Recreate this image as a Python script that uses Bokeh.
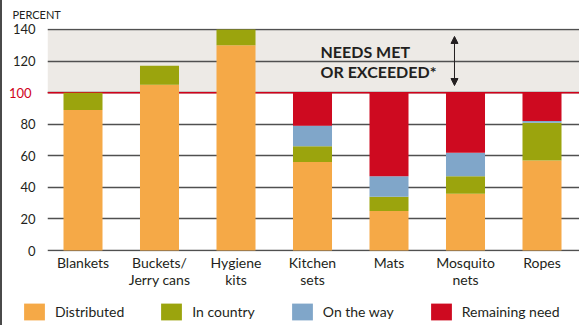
from bokeh.plotting import figure
from bokeh.layouts import column
from bokeh.models import (ColumnDataSource, Range1d, FixedTicker, BoxAnnotation, Span,
                          Label, Legend, LegendItem, Arrow, NormalHead, LinearAxis)
from bokeh.embed import file_html
from bokeh.resources import INLINE

categories = ["Blankets", "Buckets/\nJerry cans", "Hygiene\nkits", "Kitchen\nsets",
              "Mats", "Mosquito\nnets", "Ropes"]
distributed = [89, 105, 130, 56, 25, 36, 57]
in_country = [11, 12, 10, 10, 9, 11, 24]
on_the_way = [0, 0, 0, 13, 13, 15, 1]
remaining_need = [0, 0, 0, 21, 53, 38, 18]
series_names = ["Distributed", "In country", "On the way", "Remaining need"]
y_ticks = [0, 20, 40, 60, 80, 100, 120, 140]
need_line = 100

colors = ["#F5A947", "#9BA40D", "#80A6C9", "#CE0A20"]
TXT = "#231F20"
RED = "#D0021B"
FONT = "Lato"
BORDER = {"border-left": "2px solid #4a4a4a"}

xs = list(range(len(categories)))
src = ColumnDataSource(dict(x=xs, distributed=distributed, in_country=in_country,
                            on_the_way=on_the_way, remaining=remaining_need))

p = figure(width=579, height=296, output_backend="svg", toolbar_location=None,
           x_range=Range1d(-0.4641, 6.5163), y_range=Range1d(-0.633, 140.633),
           min_border_left=45, min_border_right=0, min_border_top=28, min_border_bottom=45,
           y_axis_location=None, title="PERCENT")
p.styles = BORDER
p.frame_align = False
p.outline_line_color = None
p.background_fill_color = "white"

p.title.align = "left"
p.title.vertical_align = "top"
p.title.offset = -35
p.title.text_font = FONT
p.title.text_font_style = "normal"
p.title.text_font_size = "11px"
p.title.text_color = TXT
p.title.standoff = 12

p.add_layout(BoxAnnotation(bottom=need_line, top=y_ticks[-1], fill_color="#EDEAE6",
                           fill_alpha=1, line_color=None, level="image"))

p.xgrid.visible = False
p.ygrid.ticker = FixedTicker(ticks=y_ticks)
p.ygrid.grid_line_color = "#505050"
p.ygrid.grid_line_width = 1.3

p.add_layout(Span(location=need_line, dimension="width", line_color=RED, line_width=1.5,
                  level="underlay"))

rs = p.vbar_stack(["distributed", "in_country", "on_the_way", "remaining"], x="x",
                  width=0.51, source=src, color=colors, line_color=None)


def style_axis(ax, color, standoff, size):
    ax.axis_line_color = None
    ax.major_tick_line_color = None
    ax.minor_tick_line_color = None
    ax.major_tick_out = 0
    ax.major_tick_in = 0
    ax.minor_tick_out = 0
    ax.minor_tick_in = 0
    ax.major_label_standoff = standoff
    ax.major_label_text_font = FONT
    ax.major_label_text_font_size = size
    ax.major_label_text_color = color


ya = LinearAxis(ticker=FixedTicker(ticks=[t for t in y_ticks if t != need_line]))
style_axis(ya, TXT, 12, "13px")
p.add_layout(ya, "left")
yb = LinearAxis(ticker=FixedTicker(ticks=[need_line]))
style_axis(yb, RED, -22, "13px")
p.add_layout(yb, "left")

p.xaxis.ticker = FixedTicker(ticks=xs)
p.xaxis.major_label_overrides = {i: c for i, c in enumerate(categories)}
style_axis(p.xaxis[0], TXT, 2, "14px")
p.xaxis.major_label_text_line_height = 1.0

p.add_layout(Label(x=3.105, y=126.0, text="NEEDS MET", text_align="left",
                   text_baseline="alphabetic", text_font=FONT, text_font_style="bold",
                   text_font_size="16px", text_color=TXT))
p.add_layout(Label(x=3.105, y=113.4, text="OR EXCEEDED*", text_align="left",
                   text_baseline="alphabetic", text_font=FONT, text_font_style="bold",
                   text_font_size="16px", text_color=TXT))
p.add_layout(Arrow(x_start=4.856, y_start=104.5, x_end=4.856, y_end=135.6,
                   start=NormalHead(size=7, fill_color=TXT, line_color=TXT),
                   end=NormalHead(size=7, fill_color=TXT, line_color=TXT),
                   line_color=TXT, line_width=1))

# legend strip
q = figure(width=579, height=29, output_backend="svg", toolbar_location=None,
           x_range=Range1d(0, 1), y_range=Range1d(0, 1), min_border=0,
           x_axis_location=None, y_axis_location=None)
q.styles = BORDER
q.frame_align = False
q.outline_line_color = None
q.grid.visible = False
lr = [q.vbar(x=[-5], top=[0], bottom=[0], width=0.5, color=c, line_color=None) for c in colors]
legend = Legend(items=[LegendItem(label=n, renderers=[r]) for n, r in zip(series_names, lr)],
                orientation="horizontal", location=(19, 3), padding=0, margin=0,
                spacing=34, glyph_width=26, glyph_height=21, label_height=21,
                label_standoff=8, border_line_color=None, background_fill_alpha=0,
                label_text_font=FONT, label_text_font_size="14px", label_text_color=TXT)
q.add_layout(legend)

open("out.html", "w").write(file_html(column(p, q, spacing=0), INLINE))
